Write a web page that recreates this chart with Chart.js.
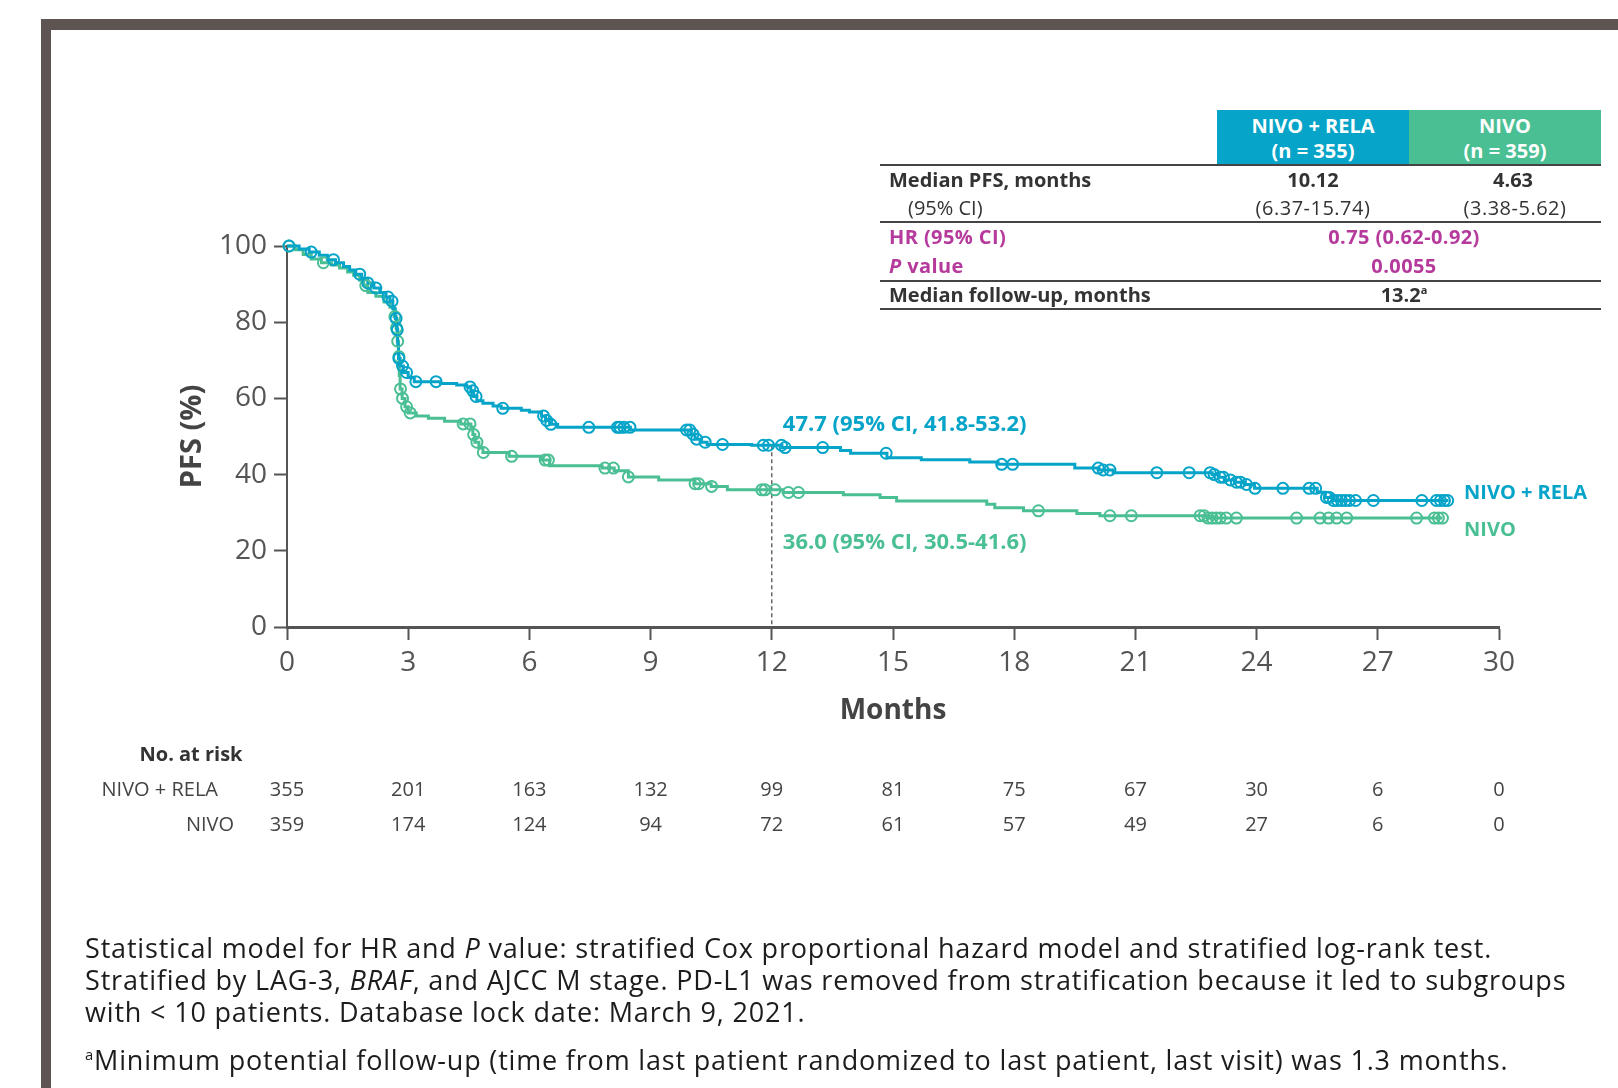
<!DOCTYPE html>
<html>
<head>
<meta charset="utf-8">
<title>PFS — NIVO + RELA vs NIVO</title>
<script src="https://cdn.jsdelivr.net/npm/chart.js@4.4.0/dist/chart.umd.min.js"></script>
<style>
  body { margin: 0; width: 1618px; height: 1088px; overflow: hidden; position: relative; background: #fff;
         font-family: 'Open Sans', sans-serif; color: #333; }
  #chart { position: absolute; left: 0; top: 0; }
  .bar { position: absolute; background: #5e5553; }
  .rule { position: absolute; left: 880px; width: 721px; height: 2px; background: #444; }
  .hdr { position: absolute; top: 110px; width: 192px; height: 55px; color: #fff; font-weight: 700; font-size: 20px;
         line-height: 25px; text-align: center; display: flex; flex-direction: column; justify-content: center; }
  .t { position: absolute; white-space: nowrap; font-size: 20px; line-height: 1; transform: translate(0, -50%); }
  .c { transform: translate(-50%, -50%); }
  .b { font-weight: 700; }
  .m { color: #b53a9c; font-weight: 700; letter-spacing: 0.4px; }
  #notes { position: absolute; left: 85px; top: 932px; font-size: 27px; line-height: 32px; letter-spacing: 0.82px;
           color: #1c1c1c; white-space: nowrap; }
  #notes p { margin: 0 0 16px 0; }
  sup { font-size: 0.55em; vertical-align: 0.7em; line-height: 0; }
</style>
</head>
<body>
<div class="bar" style="left:41px;top:19px;width:1577px;height:11px"></div>
<div class="bar" style="left:41px;top:19px;width:10px;height:1069px"></div>

<canvas id="chart" width="1618" height="1088"></canvas>

<!-- summary table -->
<div class="hdr" style="left:1217px;background:#05a4c8"><div>NIVO + RELA</div><div>(n = 355)</div></div>
<div class="hdr" style="left:1409px;background:#4bbf94"><div>NIVO</div><div>(n = 359)</div></div>
<div class="rule" style="top:164px"></div>
<div class="rule" style="top:221px"></div>
<div class="rule" style="top:280px"></div>
<div class="rule" style="top:308px"></div>

<div class="t b" style="left:889px;top:180px">Median PFS, months</div>
<div class="t c b" style="left:1313px;top:180px">10.12</div>
<div class="t c b" style="left:1513px;top:180px">4.63</div>
<div class="t" style="left:908px;top:208px">(95% CI)</div>
<div class="t c" style="left:1313px;top:208px;letter-spacing:0.5px">(6.37-15.74)</div>
<div class="t c" style="left:1515px;top:208px;letter-spacing:0.5px">(3.38-5.62)</div>
<div class="t m" style="left:889px;top:237px">HR (95% CI)</div>
<div class="t c m" style="left:1404px;top:237px">0.75 (0.62-0.92)</div>
<div class="t m" style="left:889px;top:266px"><i>P</i> value</div>
<div class="t c m" style="left:1404px;top:266px">0.0055</div>
<div class="t b" style="left:889px;top:295px">Median follow-up, months</div>
<div class="t c b" style="left:1404px;top:295px">13.2<sup>a</sup></div>

<div id="notes">
  <p>Statistical model for HR and <i>P</i> value: stratified Cox proportional hazard model and stratified log-rank test.<br>
  Stratified by LAG-3, <i>BRAF</i>, and AJCC M stage. PD-L1 was removed from stratification because it led to subgroups<br>
  with &lt; 10 patients. Database lock date: March 9, 2021.</p>
  <p><sup>a</sup>Minimum potential follow-up (time from last patient randomized to last patient, last visit) was 1.3 months.</p>
</div>

<script>
  // Kaplan-Meier steps: month of drop and PFS (%) after it
  const relaMonths = [0, 0.3, 0.55, 0.8, 1.0, 1.2, 1.4, 1.55, 1.7, 1.85, 2.0, 2.15, 2.3, 2.45, 2.55, 2.62, 2.68, 2.72,
    2.74, 2.76, 2.8, 2.88, 3.0, 3.15, 3.8, 4.2, 4.45, 4.55, 4.62, 4.7, 4.85, 5.1, 5.3, 5.8, 6.0, 6.3, 6.4, 6.5, 6.7,
    8.5, 10.0, 10.1, 10.25, 10.4, 11.5, 12.25, 13.7, 13.95, 14.85, 15.7, 16.9, 17.6, 19.5, 20.1, 20.45, 22.9, 23.05,
    23.2, 23.45, 23.7, 23.95, 25.5, 25.7, 25.9, 28.75];
  const relaPfs = [100, 99.2, 98.4, 97.6, 96.4, 95.6, 94.6, 93.7, 92.6, 91.5, 90.3, 89.0, 87.8, 86.6, 85.5, 83.5, 81, 78,
    74, 70.5, 68.5, 66.8, 65.5, 64.4, 63.9, 63.5, 63.0, 62.0, 60.5, 59.4, 58.7, 58.0, 57.4, 56.9, 56.4, 55.4, 54.2, 53.2, 52.4,
    51.7, 50.6, 49.3, 48.5, 47.9, 47.7, 47.1, 46.3, 45.6, 44.4, 43.9, 43.3, 42.7, 41.7, 41.2, 40.5, 40.0, 39.3,
    38.6, 38.0, 37.4, 36.4, 35.4, 34.0, 33.2, 33.2];

  const nivoMonths = [0, 0.2, 0.4, 0.6, 0.85, 1.1, 1.3, 1.5, 1.65, 1.8, 1.9, 2.0, 2.2, 2.4, 2.55, 2.65, 2.7, 2.73, 2.76,
    2.78, 2.8, 2.85, 2.92, 3.0, 3.2, 3.5, 3.9, 4.3, 4.55, 4.6, 4.65, 4.75, 4.85, 5.5, 6.3, 6.5, 7.8, 8.1, 8.45, 9.2,
    10.1, 10.5, 10.9, 12.28, 13.77, 14.68, 15.09, 17.32, 17.52, 18.23, 19.55, 20.12, 22.8, 28.6];
  const nivoPfs = [100, 99, 97.8, 96.6, 95.6, 95.0, 94.2, 93.2, 92.3, 91.0, 89.6, 87.8, 86.8, 85.3, 83.9, 81.5, 78.5, 75, 71,
    66, 62.5, 60, 57.8, 56.2, 55.4, 54.8, 54.0, 53.3, 52.5, 50.5, 48.5, 47, 45.8, 44.8, 43.8, 42.3, 41.7, 41.0, 39.4, 38.6,
    37.6, 36.9, 36.0, 35.3, 34.7, 34.0, 33.1, 32.2, 31.3, 30.5, 29.8, 29.2, 28.6, 28.6];

  // censored observations (months)
  const relaCensored = [0.05, 0.6, 1.15, 1.8, 2.0, 2.2, 2.5, 2.6, 2.7, 2.73, 2.77, 2.86, 2.96, 3.19, 3.69, 4.53, 4.6, 4.68,
    5.34, 6.35, 6.43, 6.53, 7.47, 8.18, 8.24, 8.34, 8.49, 9.89, 9.97, 10.05, 10.14, 10.35, 10.78, 11.79, 11.92, 12.24,
    12.33, 13.26, 14.83, 17.69, 17.96, 20.08, 20.2, 20.37, 21.53, 22.33, 22.85, 22.95, 23.1, 23.18, 23.35, 23.5, 23.6,
    23.75, 23.96, 24.65, 25.3, 25.46, 25.73, 25.8, 25.9, 26.0, 26.1, 26.2, 26.3, 26.45, 26.89, 28.09, 28.45, 28.55,
    28.65, 28.73];
  const nivoCensored = [0.05, 0.9, 1.95, 2.67, 2.71, 2.74, 2.77, 2.81, 2.86, 2.96, 3.05, 4.36, 4.53, 4.62, 4.7, 4.86,
    5.56, 6.39, 6.47, 7.87, 8.08, 8.45, 10.1, 10.19, 10.51, 11.75, 11.83, 12.08, 12.41, 12.66, 18.6, 20.37, 20.9, 22.6,
    22.7, 22.8, 22.9, 23.0, 23.1, 23.25, 23.5, 24.99, 25.57, 25.78, 25.98, 26.23, 27.96, 28.4, 28.5, 28.6];

  // 12-month landmark
  const landmarkMonth = 12;
  const landmarkRela = 47.7;
  const landmarkNivo = 36.0;
  const landmarkRelaText = '47.7 (95% CI, 41.8-53.2)';
  const landmarkNivoText = '36.0 (95% CI, 30.5-41.6)';

  // number at risk
  const riskMonths = [0, 3, 6, 9, 12, 15, 18, 21, 24, 27, 30];
  const riskRela = [355, 201, 163, 132, 99, 81, 75, 67, 30, 6, 0];
  const riskNivo = [359, 174, 124, 94, 72, 61, 57, 49, 27, 6, 0];

  const BLUE = '#05a4c8';
  const GREEN = '#4bbf94';
  const AXIS = '#555';
  const FONT = "'Open Sans', sans-serif";

  Chart.defaults.font.family = FONT;

  function pfsAt(months, pfs, t) {
    let v = pfs[0];
    for (let i = 0; i < months.length; i++) {
      if (months[i] <= t) v = pfs[i];
    }
    return v;
  }
  const curve = (months, pfs) => months.map((m, i) => ({ x: m, y: pfs[i] }));
  const marks = (cens, months, pfs) => cens.map(m => ({ x: m, y: pfsAt(months, pfs, m) }));

  // text drawn against the scales: landmark labels, arm labels, number-at-risk table
  const labelsPlugin = {
    id: 'kmLabels',
    afterDatasetsDraw(chart) {
      const { ctx, chartArea, scales: { x, y } } = chart;
      ctx.save();
      ctx.textBaseline = 'middle';

      ctx.font = `bold 22px ${FONT}`;
      ctx.textAlign = 'left';
      const lx = x.getPixelForValue(landmarkMonth) + 11;
      ctx.fillStyle = BLUE;
      ctx.fillText(landmarkRelaText, lx, y.getPixelForValue(landmarkRela) - 21);
      ctx.fillStyle = GREEN;
      ctx.fillText(landmarkNivoText, lx, y.getPixelForValue(landmarkNivo) + 53);

      ctx.font = `bold 20px ${FONT}`;
      const ex = chartArea.right - 35;
      ctx.fillStyle = BLUE;
      ctx.fillText('NIVO + RELA', ex, y.getPixelForValue(relaPfs[relaPfs.length - 1]) - 7);
      ctx.fillStyle = GREEN;
      ctx.fillText('NIVO', ex, y.getPixelForValue(nivoPfs[nivoPfs.length - 1]) + 12);

      // number at risk
      const row0 = chartArea.bottom + 128;
      const row1 = chartArea.bottom + 163;
      const row2 = chartArea.bottom + 198;
      ctx.fillStyle = '#333';
      ctx.font = `bold 20px ${FONT}`;
      ctx.textAlign = 'center';
      ctx.fillText('No. at risk', 191, row0);
      ctx.font = `20px ${FONT}`;
      ctx.fillStyle = '#444';
      ctx.textAlign = 'right';
      ctx.fillText('NIVO + RELA', 218, row1);
      ctx.fillText('NIVO', 234, row2);
      ctx.textAlign = 'center';
      riskMonths.forEach((m, i) => {
        const px = x.getPixelForValue(m);
        ctx.fillText(String(riskRela[i]), px, row1);
        ctx.fillText(String(riskNivo[i]), px, row2);
      });
      ctx.restore();
    },
  };

  const censorStyle = color => ({
    showLine: false,
    pointStyle: 'circle',
    pointRadius: 5.5,
    pointBorderWidth: 2,
    pointBorderColor: color,
    pointBackgroundColor: 'rgba(255,255,255,0)',
    clip: false,
  });

  new Chart(document.getElementById('chart'), {
    type: 'line',
    data: {
      datasets: [
        { label: 'NIVO + RELA censored', data: marks(relaCensored, relaMonths, relaPfs), ...censorStyle(BLUE) },
        { label: 'NIVO censored', data: marks(nivoCensored, nivoMonths, nivoPfs), ...censorStyle(GREEN) },
        { label: 'NIVO + RELA', data: curve(relaMonths, relaPfs), stepped: 'before', borderColor: BLUE,
          borderWidth: 3, pointRadius: 0, clip: false },
        { label: 'NIVO', data: curve(nivoMonths, nivoPfs), stepped: 'before', borderColor: GREEN,
          borderWidth: 3, pointRadius: 0, clip: false },
        { label: 'landmark', data: [{ x: landmarkMonth, y: landmarkRela }, { x: landmarkMonth, y: 0 }],
          borderColor: '#444', borderWidth: 1.2, borderDash: [4, 3], pointRadius: 0 },
      ],
    },
    options: {
      responsive: false,
      devicePixelRatio: 1,
      animation: false,
      events: [],
      layout: { padding: { top: 246, right: 119, bottom: 351, left: 0 } },
      plugins: { legend: { display: false }, tooltip: { enabled: false } },
      scales: {
        x: {
          type: 'linear', min: 0, max: 30,
          ticks: { stepSize: 3, padding: 6, color: AXIS, font: { size: 28 } },
          grid: { drawOnChartArea: false, tickLength: 13, tickWidth: 2, tickColor: AXIS },
          border: { color: AXIS, width: 3 },
          title: { display: true, text: 'Months', color: '#444', font: { size: 28, weight: 'bold' }, padding: { bottom: 9 } },
          afterFit(scale) { scale.height = 110; },
        },
        y: {
          min: 0, max: 100,
          ticks: { stepSize: 20, padding: 7, color: AXIS, font: { size: 28 } },
          grid: { drawOnChartArea: false, tickLength: 13, tickWidth: 2, tickColor: AXIS },
          border: { color: AXIS, width: 2 },
          title: { display: true, text: 'PFS (%)', color: '#444', font: { size: 29, weight: 'bold' }, padding: { top: 175 } },
          afterFit(scale) { scale.width = 287; },
        },
      },
    },
    plugins: [labelsPlugin],
  });
</script>
</body>
</html>
